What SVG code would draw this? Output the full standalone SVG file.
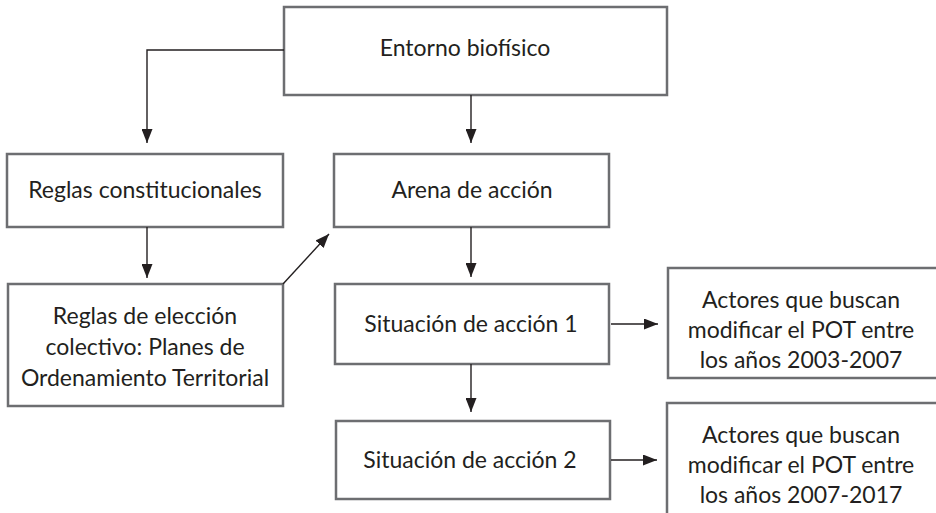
<svg xmlns="http://www.w3.org/2000/svg" width="936" height="513" viewBox="0 0 936 513">
<defs>
<marker id="ah" markerUnits="userSpaceOnUse" markerWidth="14" markerHeight="11" refX="14" refY="5.5" orient="auto">
<path d="M0,0 L14,5.5 L0,11 z" fill="#231f20"/>
</marker>
</defs>
<style>
.box{fill:#fff;stroke:#6d6e71;stroke-width:2.5}
.t{font-family:Lato,"Open Sans","Liberation Sans",sans-serif;font-size:23px;fill:#231f20;text-anchor:middle}
.c{fill:none;stroke:#231f20;stroke-width:1.4;marker-end:url(#ah)}
</style>
<rect width="936" height="513" fill="#fff"/>
<g id="entorno"><rect class="box" x="284" y="7" width="383" height="88"/><text class="t" x="465" y="56">Entorno biofísico</text></g>
<g id="reglas-const"><rect class="box" x="7" y="154" width="276" height="73"/><text class="t" x="145" y="198">Reglas constitucionales</text></g>
<g id="arena"><rect class="box" x="334" y="154" width="275" height="73"/><text class="t" x="472" y="198">Arena de acción</text></g>
<g id="reglas-eleccion"><rect class="box" x="8" y="284" width="275" height="122"/><text class="t" x="145" y="324">Reglas de elección</text><text class="t" x="145" y="355">colectivo: Planes de</text><text class="t" x="145" y="386">Ordenamiento Territorial</text></g>
<g id="situacion1"><rect class="box" x="335" y="284" width="274" height="80"/><text class="t" x="471" y="332">Situación de acción 1</text></g>
<g id="situacion2"><rect class="box" x="336" y="421" width="274" height="78"/><text class="t" x="470" y="468">Situación de acción 2</text></g>
<g id="actores1"><rect class="box" x="668" y="268" width="280" height="110"/><text class="t" x="801" y="308">Actores que buscan</text><text class="t" x="801" y="338">modificar el POT entre</text><text class="t" x="801" y="368">los años 2003-2007</text></g>
<g id="actores2"><rect class="box" x="667" y="403" width="280" height="130"/><text class="t" x="801" y="443">Actores que buscan</text><text class="t" x="801" y="473">modificar el POT entre</text><text class="t" x="801" y="503">los años 2007-2017</text></g>
<g id="connectors">
<path class="c" d="M284,50 H147 V143"/>
<path class="c" d="M471,95 V143"/>
<path class="c" d="M147,227 V278"/>
<path class="c" d="M283,284 L329,234"/>
<path class="c" d="M471,227 V277"/>
<path class="c" d="M471,364 V412"/>
<path class="c" d="M611,324 H658"/>
<path class="c" d="M611,460 H657"/>
</g>
</svg>
